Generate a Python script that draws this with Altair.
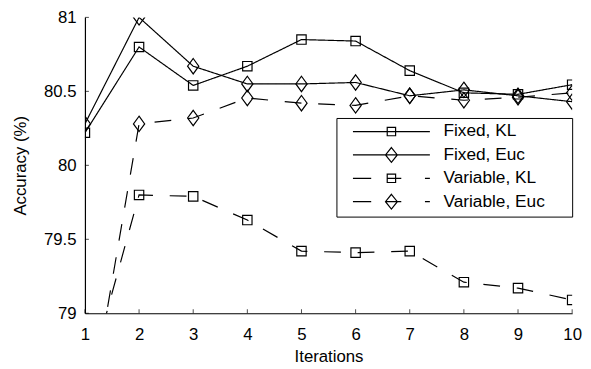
import altair as alt
import pandas as pd

iterations = [1, 2, 3, 4, 5, 6, 7, 8, 9, 10]
fixed_kl = [80.22, 80.80, 80.54, 80.67, 80.85, 80.84, 80.64, 80.49, 80.48, 80.545]
fixed_euc = [80.28, 81.00, 80.67, 80.55, 80.55, 80.56, 80.47, 80.51, 80.47, 80.43]
variable_kl = [78.47, 79.80, 79.79, 79.63, 79.42, 79.41, 79.42, 79.21, 79.17, 79.09]
variable_euc = [78.15, 80.28, 80.32, 80.455, 80.42, 80.405, 80.47, 80.44, 80.46, 80.49]
series_names = ["Fixed, KL", "Fixed, Euc", "Variable, KL", "Variable, Euc"]
x_ticks = [1, 2, 3, 4, 5, 6, 7, 8, 9, 10]
y_ticks = [79, 79.5, 80, 80.5, 81]

SQ = "M-0.95,-0.95H0.95V0.95H-0.95Z"
DIA = "M0,-1.56L1.14,0L0,1.56L-1.14,0Z"
# legend symbols: line segment(s) plus marker; trailing move extends the legend frame
LEG_FK = "M-7.8,0H7.8M-0.85,-0.85H0.85V0.85H-0.85ZM35,0"
LEG_FE = "M-7.8,0H7.8M0,-1.5L1.2,0L0,1.5L-1.2,0ZM35,0"
LEG_VK = "M-7.8,0H-4.1M-0.85,0H2M6.8,0H7.8M-0.85,-0.85H0.85V0.85H-0.85ZM35,0"
LEG_VE = "M-7.8,0H-4.1M-1.2,0H2M6.8,0H7.8M0,-1.5L1.2,0L0,1.5L-1.2,0ZM35,0"

rows = []
for name, vals in zip(series_names, [fixed_kl, fixed_euc, variable_kl, variable_euc]):
    for it, v in zip(iterations, vals):
        rows.append({"iteration": it, "accuracy": v, "series": name})
df = pd.DataFrame(rows)

FONT = "Liberation Sans"
x_scale = alt.Scale(domain=[1, 10], nice=False, zero=False)
y_scale = alt.Scale(domain=[79, 81], nice=False, zero=False)

x_axis = alt.Axis(values=x_ticks, title="Iterations", ticks=False, grid=False,
                  labelPadding=14, titlePadding=6, labelFlush=False)
y_axis = alt.Axis(values=y_ticks, format="~g", title="Accuracy (%)", ticks=False,
                  grid=False, labelPadding=9, titlePadding=14, labelFlush=False)
x_enc = alt.X("iteration:Q", scale=x_scale, axis=x_axis)
y_enc = alt.Y("accuracy:Q", scale=y_scale, axis=y_axis)

lines = alt.Chart(df).mark_line(clip=True, color="black", strokeWidth=1.2).encode(
    x=x_enc, y=y_enc,
    strokeDash=alt.StrokeDash("series:N",
                              scale=alt.Scale(domain=series_names,
                                              range=[[1, 0], [1, 0], [17, 17], [17, 17]]),
                              legend=None),
    detail="series:N",
)

points = alt.Chart(df).mark_point(clip=True, color="black", filled=False, strokeWidth=1.2,
                                  size=100, opacity=1).encode(
    x=x_enc, y=y_enc,
    shape=alt.Shape("series:N", scale=alt.Scale(domain=series_names, range=[SQ, DIA, SQ, DIA]),
                    legend=None),
)

legend_layer = alt.Chart(df).mark_point(color="black", filled=False, strokeWidth=1,
                                        size=100, opacity=0).encode(
    x=x_enc, y=y_enc,
    shape=alt.Shape("series:N",
                    scale=alt.Scale(domain=series_names, range=[LEG_FK, LEG_FE, LEG_VK, LEG_VE]),
                    legend=alt.Legend(orient="none", legendX=255, legendY=102, title=None,
                                      strokeColor="black", fillColor="white", padding=5,
                                      cornerRadius=0, symbolOffset=42, labelOffset=44,
                                      symbolSize=100, symbolStrokeWidth=1.2,
                                      symbolStrokeColor="black", symbolFillColor="transparent",
                                      symbolOpacity=1, labelFont=FONT, labelFontSize=17.5,
                                      labelColor="black", rowPadding=3.7, labelLimit=0)),
)

ytick_df = pd.DataFrame({"accuracy": y_ticks, "iteration": [x_ticks[0]] * len(y_ticks)})
xtick_df = pd.DataFrame({"iteration": x_ticks, "accuracy": [y_ticks[0]] * len(x_ticks)})

yticks = alt.Chart(ytick_df).mark_tick(orient="horizontal", color="black", size=4,
                                       thickness=1, xOffset=2).encode(x=x_enc, y=y_enc)
xticks = alt.Chart(xtick_df).mark_tick(orient="vertical", color="black", size=4,
                                       thickness=1, yOffset=-2).encode(x=x_enc, y=y_enc)

chart = alt.layer(lines, points, yticks, xticks, legend_layer).resolve_scale(
    shape="independent"
).properties(
    width=494, height=300,
    autosize=alt.AutoSizeParams(type="none"),
    padding={"left": 78, "top": 7, "right": 11, "bottom": 54},
    background="white",
).configure_view(stroke=None).configure_axis(
    domainColor="black", domainWidth=1.2, labelFont=FONT, labelFontSize=17,
    labelColor="black", titleFont=FONT, titleFontSize=17, titleFontWeight="normal",
    titleColor="black",
)

chart.save("out.html", embed_options={"renderer": "svg", "actions": False})
